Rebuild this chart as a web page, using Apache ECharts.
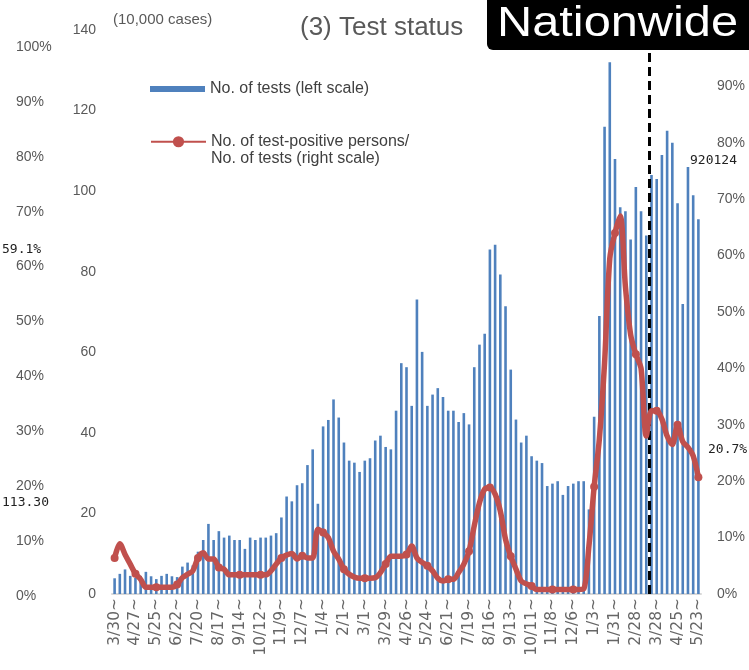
<!DOCTYPE html>
<html>
<head>
<meta charset="utf-8">
<script src="https://cdn.jsdelivr.net/npm/echarts@6/dist/echarts.min.js"></script>
<style>html,body{margin:0;padding:0;background:#fff;overflow:hidden}#c{width:749px;height:670px}</style>
</head>
<body>
<div id="c"></div>
<script>
const weeks = ["3/30","4/6","4/13","4/20","4/27","5/4","5/11","5/18","5/25","6/1","6/8","6/15","6/22","6/29","7/6","7/13","7/20","7/27","8/3","8/10","8/17","8/24","8/31","9/7","9/14","9/21","9/28","10/5","10/12","10/19","10/26","11/2","11/9","11/16","11/23","11/30","12/7","12/14","12/21","12/28",
"1/4","1/11","1/18","1/25","2/1","2/8","2/15","2/22","3/1","3/8","3/15","3/22","3/29","4/5","4/12","4/19","4/26","5/3","5/10","5/17","5/24","5/31","6/7","6/14","6/21","6/28","7/5","7/12","7/19","7/26","8/2","8/9","8/16","8/23","8/30","9/6","9/13","9/20","9/27","10/4","10/11","10/18","10/25","11/1","11/8","11/15","11/22","11/29","12/6","12/13","12/20","12/27",
"1/3","1/10","1/17","1/24","1/31","2/7","2/14","2/21","2/28","3/7","3/14","3/21","3/28","4/4","4/11","4/18","4/25","5/2","5/9","5/16","5/23"];

// No. of tests (10,000 cases), left scale
const tests = [3.9,5.0,6.1,4.5,4.0,4.5,5.5,4.4,3.7,4.5,5.0,4.4,4.2,6.8,7.8,7.1,10.5,13.4,17.4,13.4,15.6,14.0,14.5,13.4,13.4,11.2,14.0,13.4,14.0,14.0,14.5,15.1,19.0,24.2,23.0,27.0,27.5,32.0,35.9,22.4,
41.6,43.2,48.3,43.8,37.6,33.1,32.6,30.3,33.1,33.7,38.1,39.3,36.5,35.9,45.5,57.3,56.3,46.7,73.1,60.1,46.7,49.5,51.1,48.9,45.5,45.5,42.7,44.9,42.1,56.3,61.9,64.6,85.5,86.7,79.3,71.4,55.7,43.3,37.6,39.3,34.2,33.1,32.5,26.8,27.4,28.0,24.6,26.8,27.4,28.0,28.0,21.0,
44,69,116,132,108,96,95,88,101,95,89,104,103,109,115,112,97,72,106,99,93];

// Positivity rate (%), right scale
const positivity = [6.4,8.9,7.0,5.3,3.6,2.6,1.2,1.2,1.2,1.2,1.2,1.2,1.7,2.9,3.5,4.1,6.4,7.3,6.2,6.2,4.7,4.4,3.4,3.4,3.4,3.4,3.4,3.4,3.4,3.4,4.1,5.3,6.4,6.9,7.2,6.2,6.8,6.4,6.4,11.5,
10.9,10.0,7.6,6.2,4.4,3.5,3.0,2.8,2.8,2.8,2.9,3.8,5.3,6.7,6.7,6.7,7.0,8.5,6.4,5.6,5.0,4.1,2.8,2.3,2.6,2.6,3.8,5.3,7.6,12.1,16.2,18.6,18.9,17.7,14.7,9.7,6.7,4.4,2.3,1.8,1.4,0.8,0.8,0.8,0.8,0.8,0.8,0.8,0.8,0.8,0.9,8.5,
19,27.5,41,59.5,64,67,54.5,46,42.5,40,28,32.5,32.5,31,28,26.5,30,27,26,24.5,20.7];

const leftTicks = {min:0, max:140, interval:20};
const pctTicks = {min:0, max:100, interval:10};
const markerWeek = 102.5; // boundary between the 3/14 and 3/21 weeks

const nameTests = 'No. of tests (left scale)';
const namePos = 'No. of test-positive persons/\nNo. of tests (right scale)';
const FONT = "'Liberation Sans', Arial, sans-serif";
const GREY = '#595959';

const chart = echarts.init(document.getElementById('c'), null, {renderer:'canvas', width:749, height:670});
chart.setOption({
  animation:false,
  backgroundColor:'#fff',
  textStyle:{fontFamily:FONT},
  title:[
    {text:'(3) Test status', left:295, top:10, textStyle:{fontSize:26, fontWeight:'normal', color:GREY, fontFamily:FONT}},
    {text:'(10,000 cases)', left:108, top:7, textStyle:{fontSize:15, fontWeight:'normal', color:GREY, fontFamily:FONT}}
  ],
  legend:[
    {data:[nameTests], left:150, top:81, padding:0, itemWidth:55, itemHeight:6, icon:'rect',
     textStyle:{fontSize:16, color:'#404040', fontFamily:FONT}},
    {data:[namePos], left:150, top:117, padding:0, itemWidth:55, itemHeight:14,
     formatter:n=>'\u00a0\n'+n,
     textStyle:{fontSize:16, color:'#404040', fontFamily:FONT, lineHeight:16.5}}
  ],
  grid:[
    {left:112, right:48, top:30, bottom:76, containLabel:false, outerBoundsMode:'none'},
    {left:16, width:1, top:47, bottom:74, containLabel:false, outerBoundsMode:'none'}
  ],
  xAxis:[
    {type:'category', data:weeks, gridIndex:0, boundaryGap:true,
     axisLine:{lineStyle:{color:'#d9d9d9', width:2}}, axisTick:{show:false},
     axisLabel:{interval:3, rotate:90, fontSize:15.5, color:'#666', margin:4, padding:[6,0,0,0],
       fontFamily:"'DejaVu Sans', sans-serif", formatter:v=>v+'~'}},
    {type:'value', gridIndex:1, show:false, min:0, max:1},
    {type:'value', gridIndex:0, show:false, min:-0.5, max:weeks.length-0.5}
  ],
  yAxis:[
    {type:'value', gridIndex:0, min:leftTicks.min, max:leftTicks.max, interval:leftTicks.interval,
     splitLine:{show:false}, axisLine:{show:false}, axisTick:{show:false},
     axisLabel:{fontSize:14, color:GREY, margin:16}},
    {type:'value', gridIndex:0, position:'right', min:pctTicks.min, max:pctTicks.max, interval:pctTicks.interval,
     splitLine:{show:false}, axisLine:{show:false}, axisTick:{show:false},
     axisLabel:{fontSize:14, color:GREY, margin:16, formatter:'{value}%'}},
    {type:'value', gridIndex:1, min:pctTicks.min, max:pctTicks.max, interval:pctTicks.interval,
     splitLine:{show:false}, axisLine:{show:false}, axisTick:{show:false},
     axisLabel:{inside:true, fontSize:14, color:GREY, margin:0, formatter:'{value}%'}}
  ],
  series:[
    {name:nameTests, type:'bar', xAxisIndex:0, yAxisIndex:0, data:tests, barWidth:2.6,
     itemStyle:{color:'#4F81BD'}},
    {name:'marker', type:'line', xAxisIndex:2, yAxisIndex:0, data:[], silent:true,
     markLine:{symbol:'none', silent:true, label:{show:false}, animation:false,
       lineStyle:{color:'#000', type:[9,5], width:3}, data:[{xAxis:markerWeek}]}},
    {name:namePos, type:'line', xAxisIndex:0, yAxisIndex:1, data:positivity, smooth:0.3,
     symbol:'circle', symbolSize:8, z:5,
     lineStyle:{width:5.5, color:'#C0504D'}, itemStyle:{color:'#C0504D'}}
  ],
  graphic:[
    {type:'rect', left:487, top:-10, z:50, shape:{width:280, height:60, r:6}, style:{fill:'#000'}},
    {type:'text', x:497, y:24, z:51, scaleX:1.16,
     style:{text:'Nationwide', font:"42px 'Liberation Sans'", fill:'#fff', verticalAlign:'middle'}},
    {type:'text', left:2, top:243, z:60, style:{text:'59.1%', font:"13px 'DejaVu Sans Mono'", fill:'#222'}},
    {type:'text', left:2, top:496, z:60, style:{text:'113.30', font:"13px 'DejaVu Sans Mono'", fill:'#222'}},
    {type:'text', left:690, top:154, z:60, style:{text:'920124', font:"13px 'DejaVu Sans Mono'", fill:'#222'}},
    {type:'text', left:708, top:443, z:60, style:{text:'20.7%', font:"13px 'DejaVu Sans Mono'", fill:'#222'}}
  ]
});
</script>
</body>
</html>
